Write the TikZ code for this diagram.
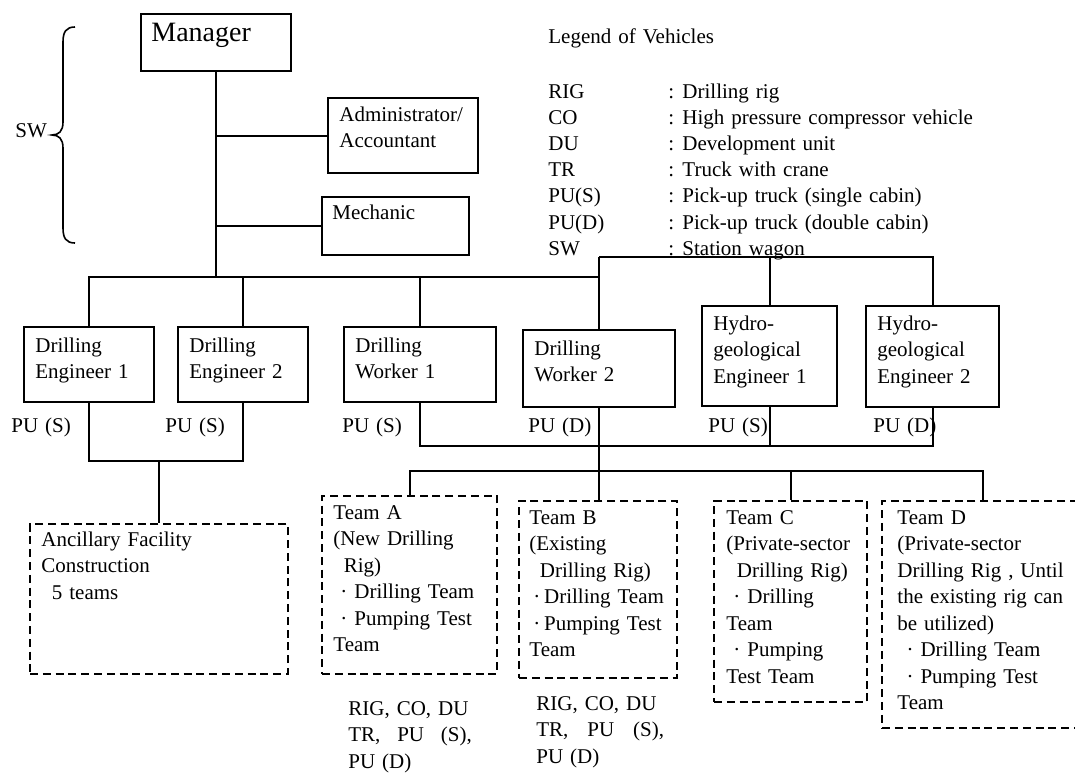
\documentclass[tikz,border=0pt]{standalone}
\usepackage{fontspec}
\setmainfont{Liberation Serif}
\usetikzlibrary{fit}

\tikzset{
  unitbox/.style={draw, line width=1pt, inner sep=0pt},
  teambox/.style={unitbox, dash pattern=on 4pt off 2.4pt},
  txt/.style={inner sep=0pt, anchor=base west, align=left, text width=130pt,
    font=\fontsize{10.5}{13.25}\selectfont},
  link/.style={line width=1pt},
}
\newcommand{\bul}{\makebox[1em]{\textperiodcentered}}

\begin{document}
\begin{tikzpicture}[x=0.5pt,y=-0.5pt]
  \useasboundingbox (0,0) rectangle (1075,772);
  \clip (0,0) rectangle (1075,772);

  % staff on site
  \node[unitbox, fit={(141,14) (291,71)}] (mgr) {};
  \node[txt, font=\fontsize{14}{17}\selectfont] (mgrT) at ([shift={(11,28)}]mgr.north west) {Manager};
  \node[unitbox, fit={(328,98) (478,173)}] (adm) {};
  \node[txt] (admT) at ([shift={(12,24)}]adm.north west) {Administrator/\\Accountant};
  \node[unitbox, fit={(322,197) (469,255)}] (mech) {};
  \node[txt] (mechT) at ([shift={(11,23)}]mech.north west) {Mechanic};

  \node[txt] (sw) at (15,137) {SW};
  \draw[line width=0.8pt] (75,27) .. controls (66,27) and (63,32) .. (63,42) -- (63,122)
    .. controls (63,131) and (59,135) .. (52,135) .. controls (59,135) and (63,139) .. (63,148)
    -- (63,228) .. controls (63,238) and (66,243) .. (75,243);

  \draw[link] (mgr.south) |- (adm.west);
  \draw[link] (mgr.south) |- (mech.west);

  % legend
  \node[txt] (legT) at (548,43) {Legend of Vehicles};
  \node[txt, font=\fontsize{10.5}{13.1}\selectfont] (legK) at (548,98)
    {RIG\\CO\\DU\\TR\\PU(S)\\PU(D)\\SW};
  \node[txt, text width=200pt, font=\fontsize{10.5}{13.1}\selectfont] (legV) at (668,98)
    {\makebox[0.67em][l]{:}Drilling rig\\
     \makebox[0.67em][l]{:}High pressure compressor vehicle\\
     \makebox[0.67em][l]{:}Development unit\\
     \makebox[0.67em][l]{:}Truck with crane\\
     \makebox[0.67em][l]{:}Pick-up truck (single cabin)\\
     \makebox[0.67em][l]{:}Pick-up truck (double cabin)\\
     \makebox[0.67em][l]{:}Station wagon};

  % engineers and workers
  \node[unitbox, fit={(24,327) (154,402)}] (de1) {};
  \node[txt] (de1T) at ([shift={(12,26)}]de1.north west) {Drilling\\Engineer 1};
  \node[unitbox, fit={(178,327) (308,402)}] (de2) {};
  \node[txt] (de2T) at ([shift={(12,26)}]de2.north west) {Drilling\\Engineer 2};
  \node[unitbox, fit={(344,327) (496,402)}] (dw1) {};
  \node[txt] (dw1T) at ([shift={(12,26)}]dw1.north west) {Drilling\\Worker 1};
  \node[unitbox, fit={(523,330) (675,407)}] (dw2) {};
  \node[txt] (dw2T) at ([shift={(12,26)}]dw2.north west) {Drilling\\Worker 2};
  \node[unitbox, fit={(702,306) (837,406)}] (he1) {};
  \node[txt] (he1T) at ([shift={(12,25)}]he1.north west) {Hydro-\\geological\\Engineer 1};
  \node[unitbox, fit={(866,306) (999,407)}] (he2) {};
  \node[txt] (he2T) at ([shift={(12,25)}]he2.north west) {Hydro-\\geological\\Engineer 2};

  \node[txt] (pu1) at (11,432) {PU (S)};
  \node[txt] (pu2) at (165,432) {PU (S)};
  \node[txt] (pu3) at (342,432) {PU (S)};
  \node[txt] (pu4) at (528,432) {PU (D)};
  \node[txt] (pu5) at (708,432) {PU (S)};
  \node[txt] (pu6) at (873,432) {PU (D)};

  \coordinate (bus) at (216,277);
  \coordinate (hub) at (599,257);
  \draw[link] (mgr.south) -- (bus);
  \draw[link] (de1.north) |- (bus) -| (dw2.north);
  \draw[link] (de2.north) -- (de2.north |- bus);
  \draw[link] (dw1.north) -- (dw1.north |- bus);
  \draw[link] (hub) -| (he2.north);
  \draw[link] (he1.north) -- (he1.north |- hub);
  \draw[link] (hub) -- (dw2.north |- bus);

  % teams
  \node[teambox, fit={(30,524) (288,674)}] (anc) {};
  \node[txt] (ancT) at ([shift={(12,23)}]anc.north west) {Ancillary Facility\\Construction\\\hspace*{0.5em}5 teams};
  \node[teambox, fit={(322,496) (497,674)}] (tA) {};
  \node[txt] (tAT) at ([shift={(12,24)}]tA.north west)
    {Team A\\(New Drilling\\\hspace*{0.5em}Rig)\\\bul Drilling Team\\\bul Pumping Test\\Team};
  \node[teambox, fit={(519,501) (677,678)}] (tB) {};
  \node[txt] (tBT) at ([shift={(11,24)}]tB.north west)
    {Team B\\(Existing\\\hspace*{0.5em}Drilling Rig)\\\makebox[0.7em]{\textperiodcentered}Drilling Team\\\makebox[0.7em]{\textperiodcentered}Pumping Test\\Team};
  \node[teambox, fit={(714,501) (867,702)}] (tC) {};
  \node[txt] (tCT) at ([shift={(13,24)}]tC.north west)
    {Team C\\(Private-sector\\\hspace*{0.5em}Drilling Rig)\\\bul Drilling\\Team\\\bul Pumping\\Test Team};
  \node[teambox, fit={(882,501) (1084,728)}] (tD) {};
  \node[txt] (tDT) at ([shift={(16,24)}]tD.north west)
    {Team D\\(Private-sector\\Drilling Rig , Until\\the existing rig can\\be utilized)\\\hspace*{0.1em}\bul Drilling Team\\\hspace*{0.1em}\bul Pumping Test\\Team};

  \node[txt] (vehA) at (348,715) {RIG, CO, DU\\TR,\hspace{0.8em}PU\hspace{0.8em}(S),\\PU (D)};
  \node[txt] (vehB) at (536,710) {RIG, CO, DU\\TR,\hspace{0.9em}PU\hspace{0.9em}(S),\\PU (D)};

  \coordinate (ejoin) at (159,461);
  \coordinate (wjoin) at (599,446);
  \coordinate (tjoin) at (599,471);
  \draw[link] (de1.south) |- (ejoin) -| (de2.south);
  \draw[link] (ejoin) -- (anc.north);
  \draw[link] (dw1.south) |- (wjoin) -| (he2.south);
  \draw[link] (he1.south) -- (he1.south |- wjoin);
  \draw[link] (dw2.south) -- (dw2.south |- tB.north);
  \draw[link] (tA.north) |- (tjoin) -| (tD.north);
  \draw[link] (tC.north) -- (tC.north |- tjoin);
\end{tikzpicture}
\end{document}
